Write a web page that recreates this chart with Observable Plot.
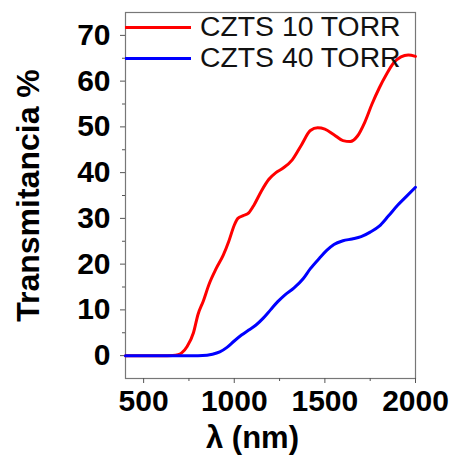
<!DOCTYPE html>
<html>
<head>
<meta charset="utf-8">
<script src="https://cdn.jsdelivr.net/npm/d3@7"></script>
<script src="https://cdn.jsdelivr.net/npm/@observablehq/plot@0.6"></script>
<style>
  html, body { margin: 0; padding: 0; background: #fff; }
  #wrap { position: relative; width: 453px; height: 458px; font-family: "Liberation Sans", Arial, sans-serif; }
  .leg { position: absolute; left: 125px; display: flex; align-items: center; font-size: 27px; color: #111; white-space: nowrap; }
  .leg span.sw { display: inline-block; width: 66px; height: 3px; margin-right: 9px; }
  .leg span.tx { display: inline-block; transform: scaleX(1.05); transform-origin: left center; }
</style>
</head>
<body>
<div id="wrap"></div>
<script>
// Series names and colours
const seriesNames = ["CZTS 10 TORR", "CZTS 40 TORR"];
const seriesColors = ["#ff0000", "#0000ff"];

// CZTS 10 TORR: wavelength (nm) and transmittance (%)
const wl10 = [400, 500, 600, 660, 690, 710, 740, 775, 800, 830, 860, 900, 940, 970, 1000, 1020, 1050, 1080, 1110, 1150, 1190, 1230, 1270, 1320, 1370, 1420, 1460, 1500, 1550, 1600, 1640, 1680, 1720, 1760, 1800, 1840, 1880, 1920, 1960, 2000];
const tr10 = [0, 0, 0, 0.05, 0.2, 0.6, 2, 5, 9, 12, 15.5, 19, 22, 25, 28.5, 30, 30.6, 31.2, 33, 36, 38.5, 40, 41, 42.8, 46, 49.2, 49.8, 49.5, 48.3, 47, 46.8, 48, 51, 55, 58.5, 61.5, 64, 65.3, 65.7, 65.4];

// CZTS 40 TORR
const wl40 = [400, 500, 600, 700, 800, 850, 880, 920, 960, 1000, 1040, 1080, 1120, 1160, 1200, 1240, 1280, 1330, 1380, 1420, 1470, 1510, 1550, 1600, 1650, 1700, 1750, 1800, 1850, 1900, 1950, 2000];
const tr40 = [0, 0, 0, 0, 0, 0.1, 0.3, 0.8, 1.8, 3.2, 4.5, 5.6, 6.7, 8.2, 10, 11.8, 13.3, 14.8, 16.8, 19, 21.3, 23, 24.3, 25.1, 25.5, 26, 27, 28.3, 30.5, 32.8, 34.8, 36.8];

// Axis ticks and labels
const xTicks = [500, 1000, 1500, 2000];
const xMinor = [750, 1250, 1750];
const yTicks = [0, 10, 20, 30, 40, 50, 60, 70];
const yMinor = [5, 15, 25, 35, 45, 55, 65];
const xLabel = "λ (nm)";
const yLabel = "Transmitancia %";

const data = [
  ...wl10.map((w, i) => ({wl: w, t: tr10[i], s: seriesNames[0]})),
  ...wl40.map((w, i) => ({wl: w, t: tr40[i], s: seriesNames[1]}))
];

const chart = Plot.plot({
  width: 453,
  height: 458,
  marginLeft: 125,
  marginRight: 38,
  marginTop: 12,
  marginBottom: 80,
  style: {fontFamily: "'Liberation Sans', Arial, sans-serif", background: "#fff", color: "#000", overflow: "visible"},
  x: {domain: [400, 2000]},
  y: {domain: [-5, 75]},
  color: {domain: seriesNames, range: seriesColors},
  marks: [
    Plot.frame({stroke: "#777", strokeWidth: 1.2}),
    Plot.axisX({ticks: xTicks, tickFormat: "d", tickSize: 5, tickPadding: 6, fontSize: 30, fontWeight: "bold", label: null, stroke: "#555"}),
    Plot.axisX({ticks: xMinor, tickSize: 3, tickFormat: () => "", label: null, stroke: "#555"}),
    Plot.axisY({ticks: yTicks, tickFormat: "d", tickSize: 5, tickPadding: 10, fontSize: 30, fontWeight: "bold", label: null, stroke: "#555"}),
    Plot.axisY({ticks: yMinor, tickSize: 3, tickFormat: () => "", label: null, stroke: "#555"}),
    Plot.line(data, {x: "wl", y: "t", z: "s", stroke: "s", strokeWidth: 3, curve: "monotone-x"}),
    Plot.text([yLabel], {frameAnchor: "left", textAnchor: "middle", dx: -97, rotate: -90, fontSize: 32, fontWeight: "bold", fill: "#000"}),
    Plot.text([xLabel], {frameAnchor: "bottom", textAnchor: "middle", lineAnchor: "middle", dx: -18, dy: 60, fontSize: 31, fontWeight: "bold", fill: "#000"})
  ]
});

const wrap = document.getElementById("wrap");
wrap.appendChild(chart);

const legTops = [27, 58];
seriesNames.forEach((name, i) => {
  const d = document.createElement("div");
  d.className = "leg";
  d.style.top = (legTops[i] - 16) + "px";
  d.style.height = "32px";
  const sw = document.createElement("span");
  sw.className = "sw";
  sw.style.background = seriesColors[i];
  d.appendChild(sw);
  const t = document.createElement("span");
  t.className = "tx";
  t.textContent = name;
  d.appendChild(t);
  wrap.appendChild(d);
});
</script>
</body>
</html>
